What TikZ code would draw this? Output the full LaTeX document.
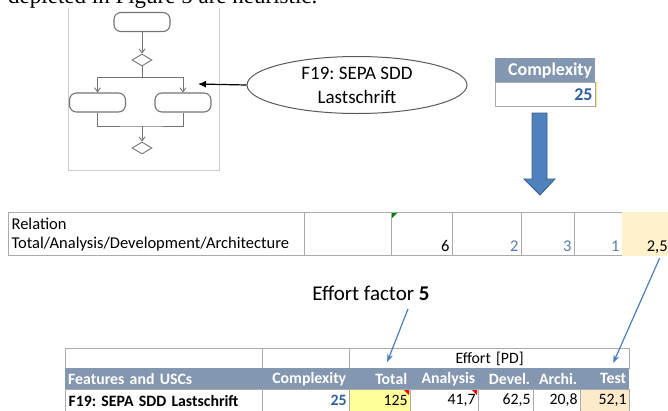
\documentclass[tikz,border=0pt]{standalone}
\usepackage{fontspec}
\setmainfont{Carlito}
\newfontfamily\capserif{Liberation Serif}
\usetikzlibrary{arrows.meta,positioning,shapes.geometric,calc}
\usepackage{xcolor}
\definecolor{gridgrey}{RGB}{170,170,170}
\definecolor{hdrblue}{RGB}{132,151,176}
\definecolor{numblue}{RGB}{47,94,160}
\definecolor{relblue}{RGB}{90,125,175}
\definecolor{totyellow}{RGB}{255,255,153}
\definecolor{testpeach}{RGB}{253,234,202}
\definecolor{relpeach}{RGB}{255,241,204}
\definecolor{pointblue}{RGB}{74,126,187}
\definecolor{blockblue}{RGB}{79,129,189}
\definecolor{blockline}{RGB}{56,93,138}
\definecolor{flowgrey}{RGB}{115,115,115}
\definecolor{framegrey}{RGB}{205,205,205}
\frenchspacing
\newcommand{\tabfont}{\fontsize{15.8}{19}\selectfont}
\newcommand{\relfont}{\fontsize{16.5}{19}\selectfont}
\tikzset{
    cellbox/.style={
        draw=gridgrey,line width=1.2pt,anchor=north west,
        inner xsep=3pt,inner ysep=0pt,minimum height=#1,font=\tabfont
    },
    cellbox/.default=22pt,
    hdrcell/.style={
        fill=hdrblue,anchor=north west,inner xsep=3pt,inner ysep=0pt,
        minimum height=21pt,text=white,font=\tabfont\bfseries,align=right
    },
    relcell/.style={
        cellbox=43pt,font=\relfont,align=right,
        text height=38pt,text depth=3pt,inner ysep=1pt
    },
    action/.style={
        draw=flowgrey,line width=1.1pt,rounded corners=7pt,
        minimum width=56pt,minimum height=19pt,inner sep=0pt
    },
    decision/.style={
        draw=flowgrey,line width=0.9pt,diamond,
        minimum width=20pt,minimum height=12pt,inner sep=0pt
    },
    flow/.style={
        draw=flowgrey,line width=0.9pt,-{Straight Barb[length=4pt,width=6pt]}
    },
    pointer/.style={
        -{Stealth[length=8pt,width=6pt]},line width=1.2pt,draw=pointblue
    }
}

\begin{document}
\begin{tikzpicture}[x=1pt,y=-1pt]
\clip (0,0) rectangle (668,410);
\useasboundingbox (0,0) rectangle (668,410);

% caption line running into the top edge
\node[anchor=base west,inner sep=0pt,font=\capserif\fontsize{23}{26}\selectfont]
(cap) at (8,3.5) {depleted in Figure 5 are heuristic.};

% activity diagram
\draw[framegrey,line width=1pt] (68,8) -- (68,170) -- (219,170) -- (219,8);
\node[action] (start) at (142,22) {};
\node[decision] (split) at (142,60) {};
\node[action] (left) at (97.5,102.5) {};
\node[action] (right) at (183,102.5) {};
\node[decision] (merge) at (142,148) {};
\coordinate (fork) at (142,77);
\coordinate (join) at (142,126);
\draw[flow] (start) -- (split);
\draw[flow] (split.south) -- (fork) -| (left.north);
\draw[flow] (fork) -| (right.north);
\draw[flowgrey,line width=0.9pt] (left.south) |- (join) -| (right.south);
\draw[flow] (join) -- (merge);

% feature bubble
\node[
ellipse,draw=black!65,line width=1pt,
minimum width=220pt,minimum height=57pt,inner sep=0pt,align=center,
font=\fontsize{19}{24}\selectfont
]
(feat) at (357,85)
{F19: SEPA SDD\\Lastschrift};
\coordinate (hit) at (198,84);
\draw[-{Latex[length=8pt,width=7pt]},line width=1.2pt] (feat.west) -- (hit);

% complexity cell
\node[hdrcell,text width=94pt,minimum height=24pt,font=\fontsize{18}{20}\selectfont\bfseries]
(cxh) at (495,58) {Complexity};
\node[cellbox=24pt,text width=94pt,align=right,text=numblue,font=\fontsize{18}{20}\selectfont\bfseries]
(cxv) at (495,82) {25};
\draw[yellow!70!orange!50,line width=1pt] (cxv.north east) -- (cxv.south east);

% block arrow down
\draw[fill=blockblue,draw=blockline,line width=0.8pt]
(532,113) -- (547,113) -- (547,179) -- (555,179) -- (540,195)
-- (524,179) -- (532,179) -- cycle;

% relation row
\node[cellbox=43pt,text width=290pt,align=left,font=\relfont]
(rel) at (8,212) {Relation\\Total/Analysis/Development/Architecture};
\node[relcell,text width=81pt] (r1) at (304,212) {};
\node[relcell,text width=55pt] (r2) at (391,212) {6};
\node[relcell,text width=63pt,text=relblue] (r3) at (452,212) {2};
\node[relcell,text width=47pt,text=relblue] (r4) at (521,212) {3};
\node[relcell,text width=42pt,text=relblue] (r5) at (574,212) {1};
\node[relcell,text width=42pt,fill=relpeach,draw=relpeach] (r6) at (622,212) {2,5};
\fill[green!50!black] (392,213) -- (397,213) -- (392,218) -- cycle;

\node[font=\fontsize{21}{24}\selectfont] (ef) at (371,293) {Effort factor \textbf{5}};

% effort table
\node[cellbox=20pt,text width=191pt] (t1) at (65,348) {};
\node[cellbox=20pt,text width=81pt] (t2) at (262,348) {};
\node[cellbox=20pt,text width=274pt,align=center] (t3) at (349,348) {Effort [PD]};

\node[hdrcell,text width=191pt,align=left] (h1) at (65,368) {Features and USCs};
\node[hdrcell,text width=81pt] (h2) at (262,368) {Complexity};
\node[hdrcell,text width=55pt] (h3) at (349,368) {Total};
\node[hdrcell,text width=62pt] (h4) at (410,368) {Analysis};
\node[hdrcell,text width=49pt] (h5) at (478,368) {Devel.};
\node[hdrcell,text width=41pt] (h6) at (533,368) {Archi.};
\node[hdrcell,text width=43pt] (h7) at (580,368) {Test};

\node[cellbox,text width=191pt,align=left,font=\tabfont\bfseries] (d1) at (65,389) {F19: SEPA SDD Lastschrift};
\node[cellbox,text width=81pt,align=right,text=numblue,font=\tabfont\bfseries] (d2) at (262,389) {25};
\node[cellbox,text width=55pt,align=right,fill=totyellow] (d3) at (349,389) {125};
\node[cellbox,text width=62pt,align=right] (d4) at (410,389) {41,7};
\node[cellbox,text width=49pt,align=right] (d5) at (478,389) {62,5};
\node[cellbox,text width=41pt,align=right] (d6) at (533,389) {20,8};
\node[cellbox,text width=43pt,align=right,fill=testpeach] (d7) at (580,389) {52,1};
\fill[red] (404,390) -- (409,390) -- (409,395) -- cycle;
\fill[red] (472,390) -- (477,390) -- (477,395) -- cycle;

% pointers into the effort table
\draw[pointer] ($(ef.south)+(37,5)$) -- ($(h3.north)+(7.5,-6)$);
\draw[pointer] ($(r6.south)+(13,2)$) -- ($(h7.north)+(8.5,-5)$);

\end{tikzpicture}
\end{document}
